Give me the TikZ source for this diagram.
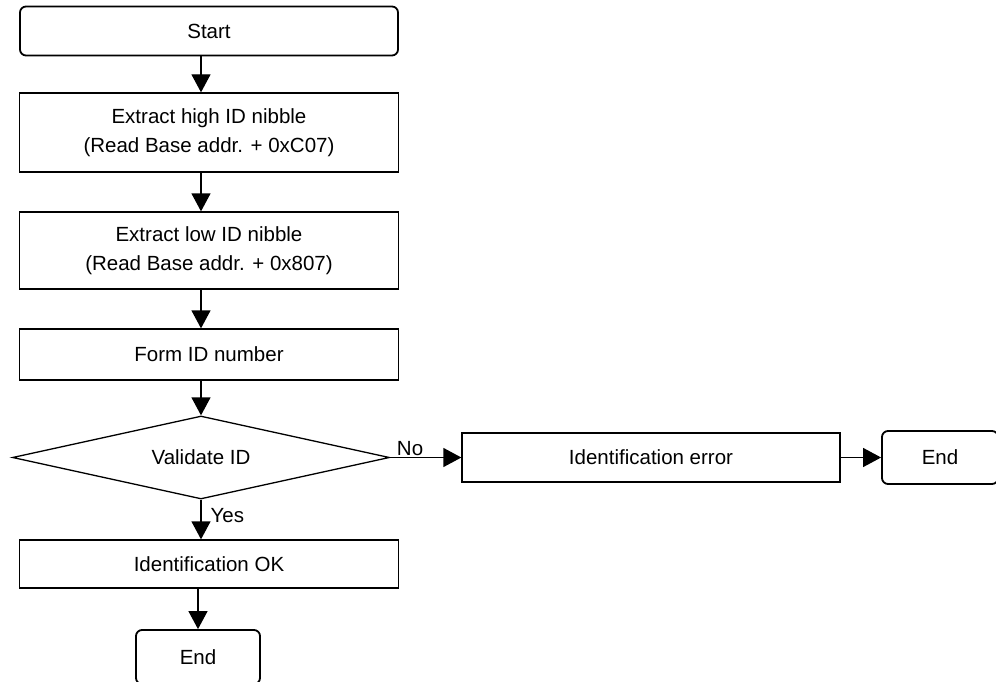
\documentclass[tikz,border=0pt]{standalone}
\usepackage{fontspec}
\setmainfont{Liberation Sans}
\usepackage{tikz}
\usetikzlibrary{shapes}
\usetikzlibrary{arrows.meta}

\begin{document}
\begin{tikzpicture}[x=1pt,y=-1pt,
  font=\fontsize{20.5}{29}\selectfont,
  box/.style={draw,line width=1.3pt,minimum width=379pt,inner sep=0pt,align=center},
  term/.style={draw,line width=1.8pt,rounded corners=6pt,inner sep=0pt},
  test/.style={draw,diamond,aspect=4.54,line width=1.3pt,minimum width=377pt,minimum height=83pt,inner sep=0pt},
  flow/.style={line width=1.3pt,-{Triangle[width=19pt,length=18pt]}}]
\useasboundingbox (0,0) rectangle (996,682);
\coordinate (spine) at (201,0);
\node[term,minimum width=378pt,minimum height=49pt] (start) at (209,31) {Start};
\node[box,minimum height=79pt] (high) at (209,132.5) {Extract high ID nibble\\(Read Base addr. + 0xC07)};
\node[box,minimum height=77pt] (low) at (209,250.5) {Extract low ID nibble\\(Read Base addr. + 0x807)};
\node[box,minimum height=51pt] (form) at (209,354.5) {Form ID number};
\node[test] (valid) at (201,457.5) {Validate ID};
\node[box,minimum height=48pt] (ok) at (209,564) {Identification OK};
\node[term,minimum width=124pt,minimum height=54pt] (end1) at (198,657) {End};
\node[box,minimum width=378pt,minimum height=49pt] (err) at (651,457.5) {Identification error};
\node[term,minimum width=116pt,minimum height=53pt] (end2) at (940,457.5) {End};
\draw[flow] (start.south -| spine) -- (high.north -| spine);
\draw[flow] (high.south -| spine) -- (low.north -| spine);
\draw[flow] (low.south -| spine) -- (form.north -| spine);
\draw[flow] (form.south -| spine) -- (valid.north);
\draw[flow] (valid.south) -- node[right=9pt,pos=0.4,inner sep=0pt] {Yes} (ok.north -| valid.south);
\draw[flow] (valid.east) -- node[above,pos=0.28,inner sep=1pt] {No} (err.west);
\draw[flow] (err.east) -- (end2.west);
\draw[flow] (ok.south -| end1) -- (end1.north);
\end{tikzpicture}
\end{document}
